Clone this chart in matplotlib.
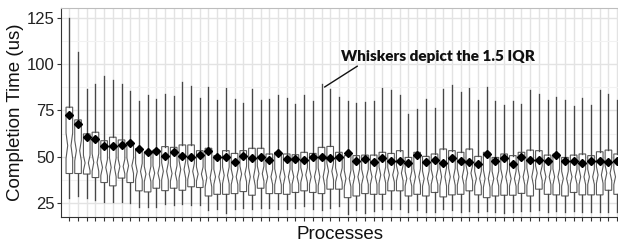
import matplotlib
matplotlib.use("Agg")
import matplotlib.pyplot as plt
import numpy as np

# Per-process summary statistics (completion time, us)
whisker_high = [125.0, 106.5, 86.8, 89.2, 93.5, 91.4, 89.6, 85.4, 80.3, 83.2,
                81.0, 84.1, 82.6, 90.5, 88.3, 81.9, 88.0, 80.8, 87.4, 81.0,
                79.2, 86.8, 80.5, 81.0, 83.2, 81.7, 78.3, 83.6, 79.9, 89.2,
                86.8, 82.3, 79.9, 79.0, 79.5, 79.9, 87.2, 86.3, 83.2, 73.2,
                75.9, 81.0, 76.5, 86.8, 88.6, 85.0, 87.4, 80.8, 87.7, 80.1,
                77.7, 79.9, 78.3, 86.3, 84.1, 80.5, 82.3, 80.8, 77.4, 81.9,
                78.1, 86.3, 84.1, 80.5]
q3 = [76.8, 69.9, 62.3, 63.2, 58.6, 60.5, 59.0, 57.7, 54.3, 52.5,
      53.5, 55.4, 55.0, 56.3, 56.3, 53.2, 54.5, 50.5, 53.2, 51.7,
      53.2, 54.5, 54.5, 51.4, 52.3, 51.4, 51.0, 52.3, 51.7, 55.0,
      55.5, 52.3, 50.5, 50.5, 50.8, 50.8, 52.3, 51.7, 53.2, 49.5,
      52.3, 50.1, 51.4, 54.1, 53.2, 52.3, 54.1, 50.1, 52.3, 49.5,
      51.4, 50.5, 52.3, 53.5, 53.2, 50.8, 51.4, 49.5, 50.8, 51.4,
      50.5, 52.6, 53.5, 51.4]
median = [55.9, 53.2, 46.5, 46.8, 44.1, 44.1, 44.6, 45.0, 41.9, 40.5,
          41.0, 42.0, 40.8, 43.0, 42.0, 40.5, 38.5, 39.0, 39.8, 39.0,
          40.5, 39.0, 40.7, 39.0, 39.0, 39.0, 39.0, 40.0, 39.0, 39.0,
          42.0, 40.0, 38.0, 39.0, 39.0, 39.0, 40.0, 40.0, 41.0, 38.0,
          39.0, 38.0, 39.0, 39.0, 39.0, 39.0, 41.0, 38.0, 38.0, 38.0,
          39.0, 38.0, 39.0, 39.0, 41.0, 39.0, 39.0, 38.0, 39.0, 39.0,
          39.0, 40.0, 41.0, 39.0]
q1 = [40.8, 40.8, 40.5, 38.6, 35.9, 34.1, 38.3, 35.9, 31.4, 30.8,
      32.8, 31.5, 32.8, 31.7, 33.6, 33.2, 28.6, 29.5, 29.5, 29.9,
      31.0, 29.0, 32.8, 29.9, 29.9, 29.5, 30.5, 31.4, 30.5, 29.9,
      32.3, 32.3, 27.7, 28.6, 29.9, 29.5, 29.5, 31.4, 31.4, 28.6,
      29.5, 28.6, 30.5, 28.1, 29.2, 29.5, 31.4, 29.2, 27.7, 28.6,
      29.0, 29.0, 30.0, 28.6, 32.3, 29.5, 29.2, 28.6, 30.5, 29.2,
      29.2, 29.2, 31.7, 29.5]
whisker_low = [27.4, 28.7, 27.4, 26.3, 25.4, 25.4, 25.5, 25.0, 22.6, 22.6,
               22.4, 24.1, 23.7, 24.1, 23.7, 23.8, 21.0, 21.4, 19.5, 21.4,
               21.9, 21.4, 22.3, 21.9, 21.4, 21.4, 21.9, 23.2, 21.4, 20.8,
               21.9, 23.2, 18.6, 20.8, 19.5, 20.5, 21.4, 21.4, 21.4, 20.1,
               20.8, 20.1, 20.1, 21.4, 20.8, 20.1, 20.5, 20.1, 20.5, 20.1,
               19.5, 20.1, 20.5, 20.5, 20.8, 20.1, 20.5, 20.1, 20.5, 20.1,
               20.1, 20.1, 20.1, 20.1]
mean = [72.6, 67.4, 60.5, 59.6, 55.5, 55.5, 56.3, 57.2, 54.3, 52.5,
        53.2, 50.5, 52.7, 50.5, 49.5, 50.9, 52.8, 49.9, 49.9, 46.8,
        50.5, 49.2, 49.5, 48.1, 51.9, 48.6, 48.6, 48.1, 49.5, 49.5,
        49.2, 49.5, 51.9, 47.7, 48.6, 46.8, 49.2, 47.4, 47.7, 46.3,
        51.0, 47.2, 48.3, 46.3, 49.0, 47.7, 46.8, 45.9, 51.4, 47.4,
        49.0, 45.9, 49.5, 48.3, 48.3, 47.4, 50.8, 47.7, 47.7, 46.3,
        47.7, 47.4, 47.2, 47.7]
samples_per_process = 68

annotation_text = "Whiskers depict the 1.5 IQR"
annotated_process = 30

n = len(median)
positions = np.arange(1, n + 1)

stats = []
for i in range(n):
    iqr = q3[i] - q1[i]
    half = 1.58 * iqr / np.sqrt(samples_per_process)
    stats.append(dict(med=median[i], q1=q1[i], q3=q3[i],
                      whislo=whisker_low[i], whishi=whisker_high[i],
                      cilo=median[i] - half, cihi=median[i] + half,
                      mean=mean[i], fliers=[]))

fig = plt.figure(figsize=(6.18, 2.42), dpi=100)
ax = fig.add_axes([61 / 618, 1 - 217 / 242, 1 - 61 / 618, (217 - 8) / 242])

edge = "#5a5a5a"
ax.bxp(stats, positions=positions, widths=0.76, shownotches=True, showmeans=True,
       showcaps=False, showfliers=False, patch_artist=True,
       boxprops=dict(facecolor="white", edgecolor=edge, linewidth=0.8),
       whiskerprops=dict(color="#474747", linewidth=0.95),
       medianprops=dict(color=edge, linewidth=0.0),
       meanprops=dict(marker="D", markerfacecolor="black",
                      markeredgecolor="black", markersize=3.8))

ax.set_xlim(0.04, n + 0.1)
ax.set_ylim(17.2, 130.6)
ax.set_yticks([25, 50, 75, 100, 125])
ax.set_yticks([37.5, 62.5, 87.5, 112.5], minor=True)
ax.set_xticks(positions)
ax.set_xticklabels([])

ax.set_axisbelow(True)
ax.grid(True, which="major", axis="both", color="#e3e3e3", linewidth=1.0)
ax.grid(True, which="minor", axis="y", color="#f2f2f2", linewidth=0.8)

ax.spines["right"].set_visible(False)
ax.spines["top"].set_color("#bdbdbd")
ax.spines["top"].set_linewidth(0.8)
ax.spines["left"].set_color("#333333")
ax.spines["bottom"].set_color("#333333")
ax.spines["left"].set_linewidth(0.8)
ax.spines["bottom"].set_linewidth(0.8)

ax.tick_params(axis="y", which="major", length=3, width=0.8, color="#333333",
               labelsize=12, labelcolor="#222222", pad=1.5)
ax.tick_params(axis="y", which="minor", length=0)
ax.tick_params(axis="x", which="major", length=3, width=0.8, color="#333333", pad=3.5)

for lab in ax.get_yticklabels():
    lab.set_family(["Liberation Sans", "DejaVu Sans"])

ax.set_ylabel("Completion Time (us)", fontsize=13.5, family=["Liberation Sans", "DejaVu Sans"],
              color="#111111", labelpad=2)
ax.set_xlabel("Processes", fontsize=13.5, family=["Liberation Sans", "DejaVu Sans"],
              color="#111111", labelpad=0.3)

ax.annotate(annotation_text,
            xy=(annotated_process + 0.35, whisker_high[annotated_process - 1] - 1.5),
            xytext=(32.2, 104.5), textcoords="data",
            ha="left", va="center", fontsize=11, fontweight="heavy",
            family=["Lato", "DejaVu Sans"], color="#111111",
            arrowprops=dict(arrowstyle="-", color="#111111", linewidth=1.0,
                            shrinkA=1, shrinkB=0, relpos=(0.115, 0.0)))

fig.savefig("out.png", dpi=100)
